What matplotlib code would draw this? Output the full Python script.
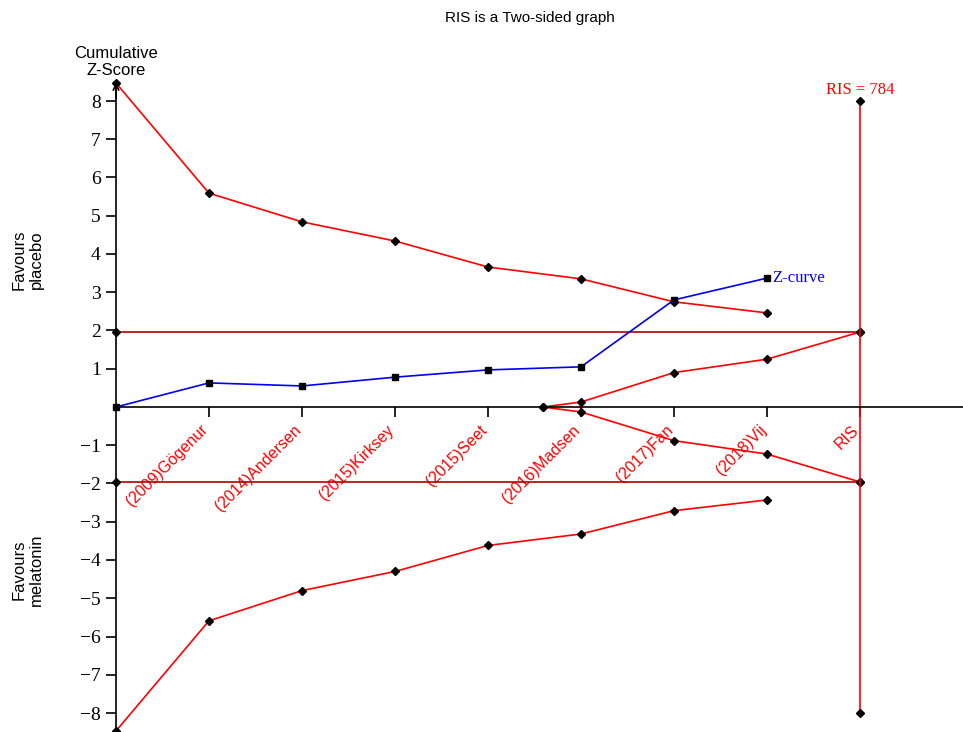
import matplotlib
matplotlib.use("Agg")
import matplotlib.pyplot as plt

studies = ["(2009)Gögenur", "(2014)Andersen", "(2015)Kirksey", "(2015)Seet",
           "(2016)Madsen", "(2017)Fan", "(2018)Vij", "RIS"]
pos = [0, 1, 2, 3, 4, 5, 6, 7]
zcurve = [0, 0.63, 0.55, 0.78, 0.97, 1.05, 2.80, 3.37]
upper = [8.47, 5.59, 4.84, 4.34, 3.66, 3.35, 2.75, 2.46]
lower = [-8.47, -5.59, -4.80, -4.30, -3.62, -3.32, -2.71, -2.43]
fut_x = [4.59, 5, 6, 7, 8]
fut_up = [0, 0.13, 0.90, 1.25, 1.96]
fut_lo = [0, -0.13, -0.88, -1.23, -1.96]
ris_pos = 8
ris_n = 784
crit = 1.96

red = "#ff0000"
serif = "Liberation Serif"
sans = "Liberation Sans"

fig = plt.figure(figsize=(9.63, 7.32), dpi=100)
ax = fig.add_axes([0, 0, 1, 1])
ax.set_xlim(-116 / 93, 847 / 93)
ax.set_ylim(-325 / 38.25, 407 / 38.25)

# axes through the origin
for s in ["top", "right"]:
    ax.spines[s].set_visible(False)
ax.spines["left"].set_position(("data", 0))
ax.spines["bottom"].set_position(("data", 0))
ax.spines["left"].set_bounds(-8.5, 8.5)
ax.spines["bottom"].set_bounds(0, 9.2)
ax.spines["left"].set_linewidth(1.2)
ax.spines["bottom"].set_linewidth(1.2)
ax.annotate("", xy=(0, 8.55), xytext=(0, 8.0),
            arrowprops=dict(arrowstyle="->", lw=1.2, color="black"))

ax.set_yticks([t for t in range(-8, 9) if t != 0])
ax.set_yticklabels([f"{t}".replace("-", "\u2212") for t in range(-8, 9) if t != 0],
                   fontfamily=serif, fontsize=14)
ax.tick_params(axis="y", direction="out", length=7, width=1.2, pad=4)

ax.set_xticks([p + 1 for p in pos])
ax.set_xticklabels(studies, rotation=45, ha="right", va="baseline",
                   rotation_mode="anchor", color=red, fontfamily=sans, fontsize=11.5)
ax.tick_params(axis="x", direction="out", length=7, width=1.2, pad=10)

# critical value lines
ax.plot([0, ris_pos], [crit, crit], color="#b00000", lw=1.2)
ax.plot([0, ris_pos], [-crit, -crit], color="#b00000", lw=1.2)
ax.plot([0, 0, ris_pos, ris_pos], [crit, -crit, crit, -crit], "kD", ms=4, ls="none")

# efficacy boundaries
ax.plot(pos, upper, color=red, lw=1.2, marker="D", ms=4, mfc="black", mec="black")
ax.plot(pos, lower, color=red, lw=1.2, marker="D", ms=4, mfc="black", mec="black")

# futility wedge
ax.plot(fut_x, fut_up, color=red, lw=1.2, marker="D", ms=4, mfc="black", mec="black")
ax.plot(fut_x, fut_lo, color=red, lw=1.2, marker="D", ms=4, mfc="black", mec="black")

# RIS line
ax.plot([ris_pos, ris_pos], [8, -8], color=red, lw=1.2, marker="D", ms=4,
        mfc="black", mec="black")
ax.text(ris_pos, 8.29, f"RIS = {ris_n}", color=red, fontfamily=serif, fontsize=12,
        ha="center", va="center")

# Z-curve
ax.plot(pos, zcurve, color="#0000ee", lw=1.2, marker="s", ms=5, mfc="black", mec="black")
ax.text(pos[-1] + 0.06, zcurve[-1], "Z-curve", color="#0000ee", fontfamily=serif,
        fontsize=12, ha="left", va="center")

fig.text(116 / 963, 1 - 62 / 732, "Cumulative\nZ-Score", ha="center", va="center",
         fontfamily=sans, fontsize=12, linespacing=1.15)
fig.text(28 / 963, 1 - 260 / 732, "Favours\nplacebo", ha="center", va="center",
         rotation=90, fontfamily=sans, fontsize=12, linespacing=1.15)
fig.text(28 / 963, 1 - 570 / 732, "Favours\nmelatonin", ha="center", va="center",
         rotation=90, fontfamily=sans, fontsize=12, linespacing=1.15)
fig.text(530 / 963, 1 - 18 / 732, "RIS is a Two-sided graph", ha="center", va="center",
         fontfamily=sans, fontsize=11)

fig.savefig("out.png", dpi=100)
